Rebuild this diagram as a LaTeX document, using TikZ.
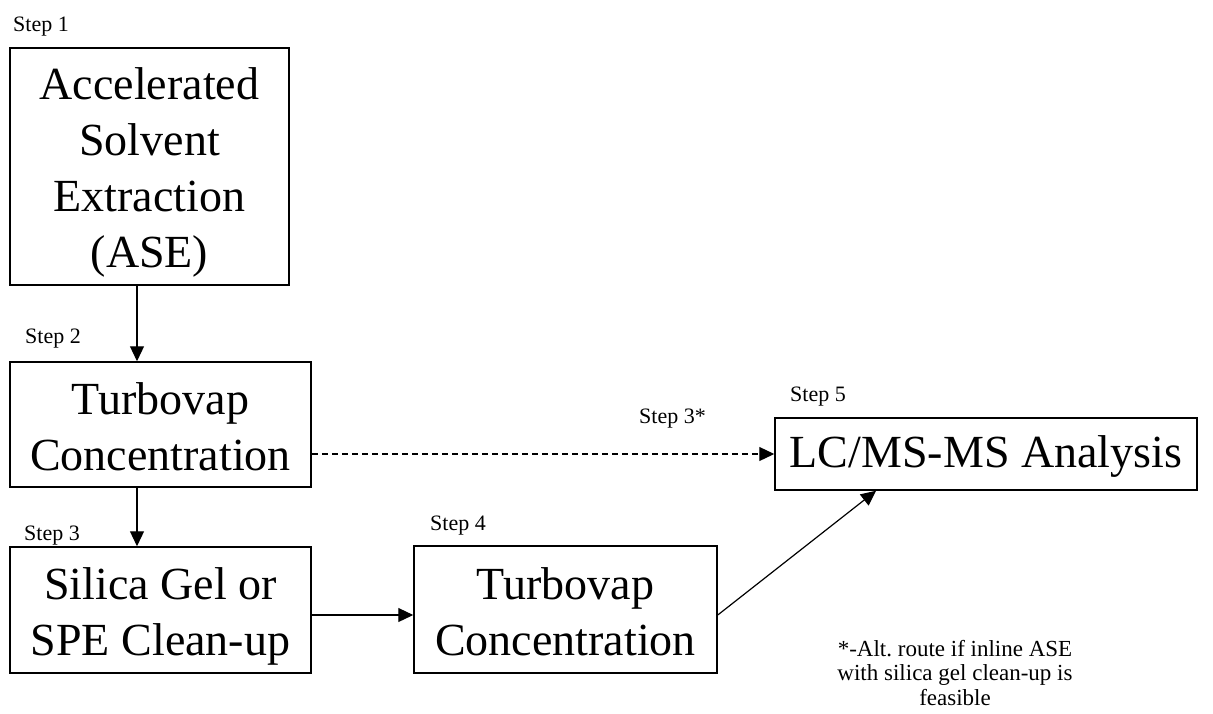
\documentclass[tikz,border=0pt]{standalone}
\usepackage{fontspec}
\setmainfont{Liberation Serif}
\usetikzlibrary{arrows.meta,calc}
\begin{document}
\begin{tikzpicture}[x=1pt,y=-1pt,
  procbox/.style={draw=black,line width=1.5pt,rectangle,inner sep=0pt},
  boxtext/.style={inner sep=0pt,align=center,font=\fontsize{46}{56}\selectfont},
  steplabel/.style={anchor=base west,inner sep=0pt,font=\fontsize{22}{26}\selectfont},
  flow/.style={line width=1.2pt,-{Triangle[length=15pt,width=14pt]}},
  altflow/.style={flow,dash pattern=on 6pt off 4pt}]
\useasboundingbox (0,0) rectangle (1213,713);
\node[procbox,minimum width=279pt,minimum height=237pt] (b1) at (149.5,166.5) {};
\node[procbox,minimum width=301pt,minimum height=125pt] (b2) at (160.5,424.5) {};
\node[procbox,minimum width=301pt,minimum height=126pt] (b3) at (160.5,610) {};
\node[procbox,minimum width=303pt,minimum height=127pt] (b4) at (565.5,609.5) {};
\node[procbox,minimum width=422pt,minimum height=72pt] (b5) at (986,454) {};
\node[boxtext] (t1) at ($(b1.center)+(0,6)$) {Accelerated\\Solvent\\Extraction\\(ASE)};
\node[boxtext] (t2) at ($(b2.center)+(0,2)$) {Turbovap\\Concentration};
\node[boxtext] (t3) at ($(b3.center)+(0,6)$) {Silica Gel or\\SPE Clean-up};
\node[boxtext] (t4) at ($(b4.center)+(0,2)$) {Turbovap\\Concentration};
\node[boxtext] (t5) at ($(b5.center)+(0,2)$) {LC/MS-MS Analysis};
\node[steplabel] (s1) at (13,31) {Step 1};
\node[steplabel] (s2) at (25,343) {Step 2};
\node[steplabel] (s3) at (24,540) {Step 3};
\node[steplabel] (s4) at (430,530) {Step 4};
\node[steplabel] (s5) at (790,401) {Step 5};
\node[steplabel] (s3a) at (639,423) {Step 3*};
\node[anchor=north,inner sep=0pt,align=center,font=\fontsize{23}{24.5}\selectfont] (note) at (955,640)
  {*-Alt.\ route if inline ASE\\with silica gel clean-up is\\feasible};
\coordinate (vx) at (137,0);
\coordinate (hy) at (0,615);
\coordinate (dy) at (0,454);
\coordinate (ex) at (876,0);
\draw[flow] (b1.south -| vx) -- (b2.north -| vx);
\draw[flow] (b2.south -| vx) -- (b3.north -| vx);
\draw[flow] (b3.east |- hy) -- (b4.west |- hy);
\draw[altflow] (b2.east |- dy) -- (b5.west |- dy);
\draw[flow] (b4.east |- hy) -- (b5.south -| ex);
\end{tikzpicture}
\end{document}
